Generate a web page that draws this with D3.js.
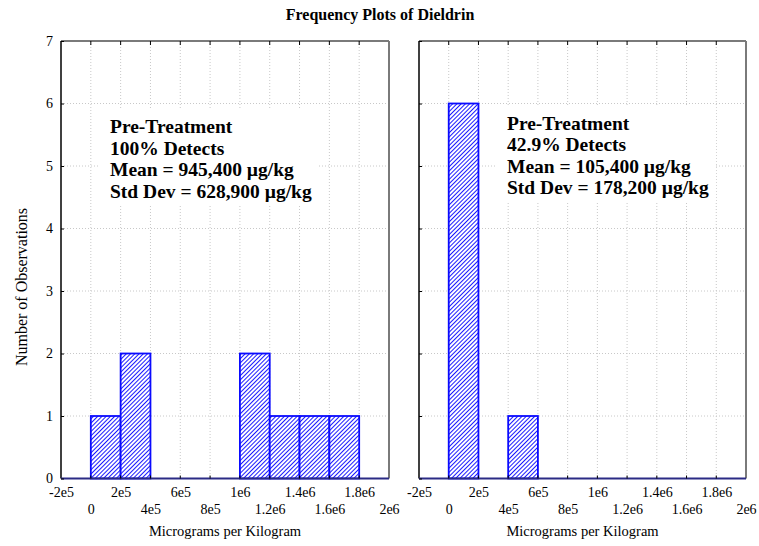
<!DOCTYPE html>
<html>
<head>
<meta charset="utf-8">
<script src="https://cdn.jsdelivr.net/npm/d3@7"></script>
<style>
  body { margin: 0; background: #fff; }
  svg { display: block; }
  text { font-family: "Liberation Serif", "Times New Roman", serif; fill: #000; }
</style>
</head>
<body>
<svg id="chart" width="759" height="546"></svg>
<script>
// ---- data ----
const chartTitle = "Frequency Plots of Dieldrin";
const xAxisTitle = "Micrograms per Kilogram";
const yAxisTitle = "Number of Observations";
const binStarts = [0, 2e5, 4e5, 6e5, 8e5, 1e6, 1.2e6, 1.4e6, 1.6e6, 1.8e6];
const binWidth = 2e5;
const leftCounts = [1, 2, 0, 0, 0, 2, 1, 1, 1, 0];
const rightCounts = [6, 0, 1, 0, 0, 0, 0, 0, 0, 0];
const xTickValues = [-2e5, 0, 2e5, 4e5, 6e5, 8e5, 1e6, 1.2e6, 1.4e6, 1.6e6, 1.8e6, 2e6];
const xTickLabels = ["-2e5", "0", "2e5", "4e5", "6e5", "8e5", "1e6", "1.2e6", "1.4e6", "1.6e6", "1.8e6", "2e6"];
const yTickValues = [0, 1, 2, 3, 4, 5, 6, 7];
const leftNotes = ["Pre-Treatment", "100% Detects", "Mean = 945,400 µg/kg", "Std Dev = 628,900 µg/kg"];
const rightNotes = ["Pre-Treatment", "42.9% Detects", "Mean = 105,400 µg/kg", "Std Dev = 178,200 µg/kg"];

const svg = d3.select("#chart");
const defs = svg.append("defs");
const pat = defs.append("pattern")
  .attr("id", "hatch")
  .attr("patternUnits", "userSpaceOnUse")
  .attr("width", 3).attr("height", 3)
  .attr("patternTransform", "rotate(45)");
pat.append("rect").attr("width", 3).attr("height", 3).attr("fill", "#ffffff");
pat.append("line")
  .attr("x1", 0.5).attr("y1", 0).attr("x2", 0.5).attr("y2", 3)
  .attr("stroke", "#0000ff").attr("stroke-width", 0.9);

svg.append("text")
  .attr("x", 380).attr("y", 20)
  .attr("text-anchor", "middle")
  .attr("font-weight", "bold")
  .attr("font-size", "16px")
  .text(chartTitle);

svg.append("text")
  .attr("transform", "translate(27,287) rotate(-90)")
  .attr("text-anchor", "middle")
  .attr("font-size", "16px")
  .text(yAxisTitle);

const plotTop = 41, plotBottom = 478.5;
const y = d3.scaleLinear().domain([0, 7]).range([plotBottom, plotTop]);

function panel(x0, x1, counts, notes, noteX, noteY0, showYLabels) {
  const x = d3.scaleLinear().domain([-2e5, 2e6]).range([x0, x1]);
  const g = svg.append("g");

  // gridlines
  g.selectAll(".vg").data(xTickValues.slice(1, -1)).enter().append("line")
    .attr("x1", d => x(d)).attr("x2", d => x(d))
    .attr("y1", plotTop).attr("y2", plotBottom)
    .attr("stroke", "#c8c8c8").attr("stroke-width", 1)
    .attr("stroke-dasharray", "1,2");
  g.selectAll(".hg").data(yTickValues.slice(1, -1)).enter().append("line")
    .attr("x1", x0).attr("x2", x1)
    .attr("y1", d => y(d)).attr("y2", d => y(d))
    .attr("stroke", "#c8c8c8").attr("stroke-width", 1)
    .attr("stroke-dasharray", "1,2");

  // note background
  const lineH = 21.5;
  const bg = g.append("rect").attr("fill", "#fff");
  const tg = g.append("g");
  notes.forEach((t, i) => {
    tg.append("text")
      .attr("x", noteX).attr("y", noteY0 + i * lineH)
      .attr("font-weight", "bold")
      .attr("font-size", "19.5px")
      .text(t);
  });
  const bb = tg.node().getBBox();
  bg.attr("x", bb.x - 11).attr("y", bb.y - 6)
    .attr("width", bb.width + 18).attr("height", bb.height + 10);

  // bars
  const bins = binStarts.map((s, i) => ({ s: s, c: counts[i] }));
  g.selectAll(".bar").data(bins.filter(d => d.c > 0)).enter().append("rect")
    .attr("x", d => x(d.s))
    .attr("y", d => y(d.c))
    .attr("width", d => x(d.s + binWidth) - x(d.s))
    .attr("height", d => y(0) - y(d.c))
    .attr("fill", "url(#hatch)")
    .attr("stroke", "#0a0aff").attr("stroke-width", 1.8);

  // frame
  g.append("line").attr("x1", x0).attr("x2", x1).attr("y1", plotTop).attr("y2", plotTop)
    .attr("stroke", "#7a7a7a").attr("stroke-width", 2);
  g.append("line").attr("x1", x1).attr("x2", x1).attr("y1", plotTop).attr("y2", plotBottom)
    .attr("stroke", "#7a7a7a").attr("stroke-width", 2);
  g.append("line").attr("x1", x0).attr("x2", x0).attr("y1", plotTop).attr("y2", plotBottom)
    .attr("stroke", "#000").attr("stroke-width", 1.5);

  // bottom axis
  const xAxis = d3.axisBottom(x).tickValues(xTickValues)
    .tickSize(0).tickFormat((d, i) => xTickLabels[i]);
  const ax = g.append("g").attr("transform", `translate(0,${plotBottom})`).call(xAxis);
  ax.select(".domain").remove();
  ax.selectAll("text")
    .attr("font-size", "14px")
    .attr("font-family", "Liberation Serif, serif")
    .attr("dy", null)
    .attr("y", (d, i) => i % 2 === 0 ? 18.5 : 35.5);
  g.append("line").attr("x1", x0).attr("x2", x1).attr("y1", plotBottom).attr("y2", plotBottom)
    .attr("stroke", "#2b2b85").attr("stroke-width", 2);

  // inward ticks top & bottom
  g.selectAll(".tt").data(xTickValues.slice(1, -1)).enter().append("line")
    .attr("x1", d => x(d)).attr("x2", d => x(d))
    .attr("y1", plotTop).attr("y2", plotTop + 4)
    .attr("stroke", "#000").attr("stroke-width", 1);
  g.selectAll(".bt").data(xTickValues.slice(1, -1)).enter().append("line")
    .attr("x1", d => x(d)).attr("x2", d => x(d))
    .attr("y1", plotBottom).attr("y2", plotBottom - 3)
    .attr("stroke", "#000").attr("stroke-width", 1);

  // left axis
  const yAxis = d3.axisLeft(y).tickValues(yTickValues).tickSizeInner(-3).tickSizeOuter(0)
    .tickFormat(showYLabels ? d3.format("d") : () => "");
  const ay = g.append("g").attr("transform", `translate(${x0},0)`).call(yAxis);
  ay.select(".domain").remove();
  ay.selectAll("line").attr("stroke", "#000");
  ay.selectAll("text")
    .attr("font-size", "14px")
    .attr("font-family", "Liberation Serif, serif")
    .attr("x", -8);

  // x axis title
  g.append("text")
    .attr("x", (x0 + x1) / 2).attr("y", 536)
    .attr("text-anchor", "middle")
    .attr("font-size", "14.5px")
    .text(xAxisTitle);
}

panel(61, 389, leftCounts, leftNotes, 110, 133, true);
panel(419, 746, rightCounts, rightNotes, 507, 129.5, false);
</script>
</body>
</html>
